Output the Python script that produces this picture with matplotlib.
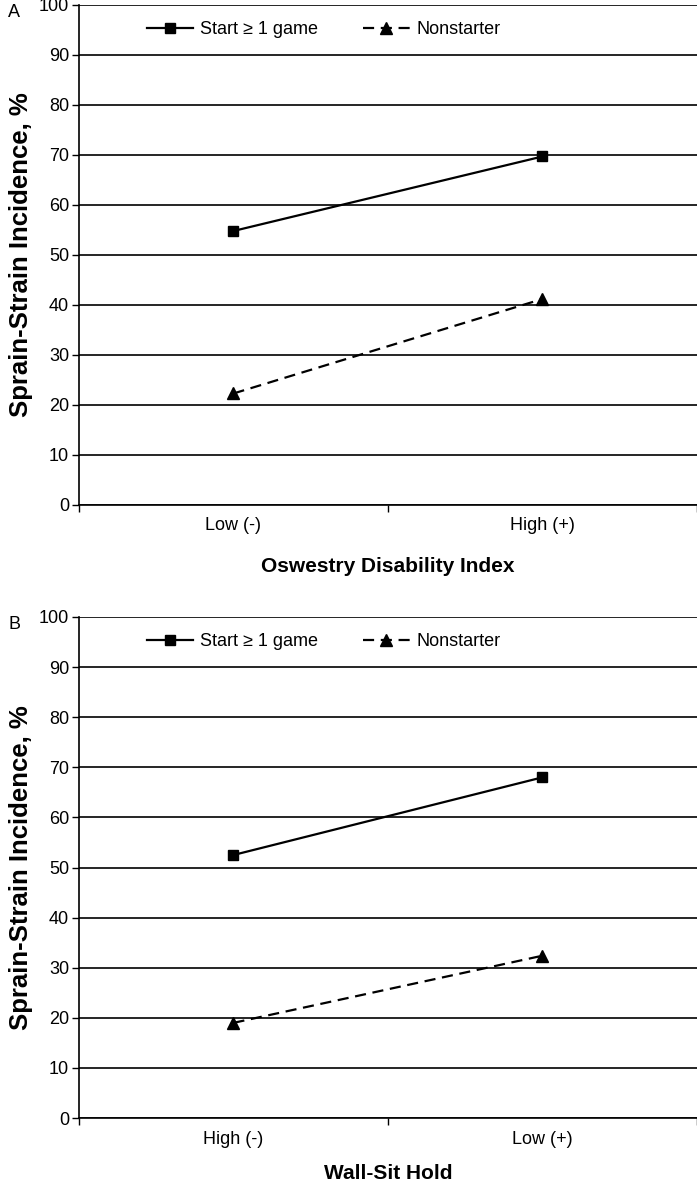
import matplotlib
matplotlib.use("Agg")
import matplotlib.pyplot as plt
import numpy as np

plt.rcParams['font.family'] = ['Liberation Sans', 'DejaVu Sans']

# data
cats_a = ["Low (-)", "High (+)"]
start_a = [54.8, 69.7]
nonstart_a = [22.3, 41.2]

cats_b = ["High (-)", "Low (+)"]
start_b = [52.5, 68.0]
nonstart_b = [19.0, 32.4]

yticks = list(range(0, 101, 10))

fig = plt.figure(figsize=(6.97, 11.84), dpi=100)


def panel(rect, cats, start, nonstart, xlabel, letter, xpad):
    ax = fig.add_axes(rect)
    x = np.arange(len(cats)) + 0.5
    ax.plot(x, start, color='black', lw=1.6, marker='s', ms=7, label='Start \u2265 1 game')
    ax.plot(x, nonstart, color='black', lw=1.6, ls=(0, (5, 3)), marker='^', ms=8,
            label='Nonstarter')
    ax.set_xlim(0, len(cats))
    ax.set_ylim(0, 100)
    ax.set_yticks(yticks)
    ax.set_xticks(np.arange(len(cats) + 1))
    ax.set_xticklabels([])
    ax.set_xticks(x, minor=True)
    ax.set_xticklabels(cats, minor=True)
    ax.tick_params(axis='x', which='minor', length=0, pad=9, labelsize=13)
    ax.tick_params(axis='x', which='major', length=5, width=1, direction='out')
    ax.tick_params(axis='y', length=5, width=1, direction='out', labelsize=13, pad=2)
    ax.yaxis.grid(True, color='black', lw=1.2)
    ax.set_axisbelow(True)
    for s in ['top', 'right']:
        ax.spines[s].set_visible(False)
    for s in ['left', 'bottom']:
        ax.spines[s].set_linewidth(1.2)
    ax.set_ylabel('Sprain-Strain Incidence, %', fontsize=18.5, fontweight='bold', labelpad=4)
    ax.set_xlabel(xlabel, fontsize=15, fontweight='bold', labelpad=xpad)
    ax.legend(loc='upper left', bbox_to_anchor=(0.083, 1.0), ncol=2, frameon=False,
              fontsize=13, handlelength=2.6, columnspacing=2.5, handletextpad=0.35)
    fig.text(0.012, rect[1] + rect[3] - 0.006, letter, fontsize=13, va='center')
    return ax


panel([0.1133, 0.5735, 0.8867, 0.4223], cats_a, start_a, nonstart_a,
      'Oswestry Disability Index', 'A', 16)
panel([0.1133, 0.0557, 0.8867, 0.4232], cats_b, start_b, nonstart_b,
      'Wall-Sit Hold', 'B', 12)

fig.savefig('out.png', dpi=100)
